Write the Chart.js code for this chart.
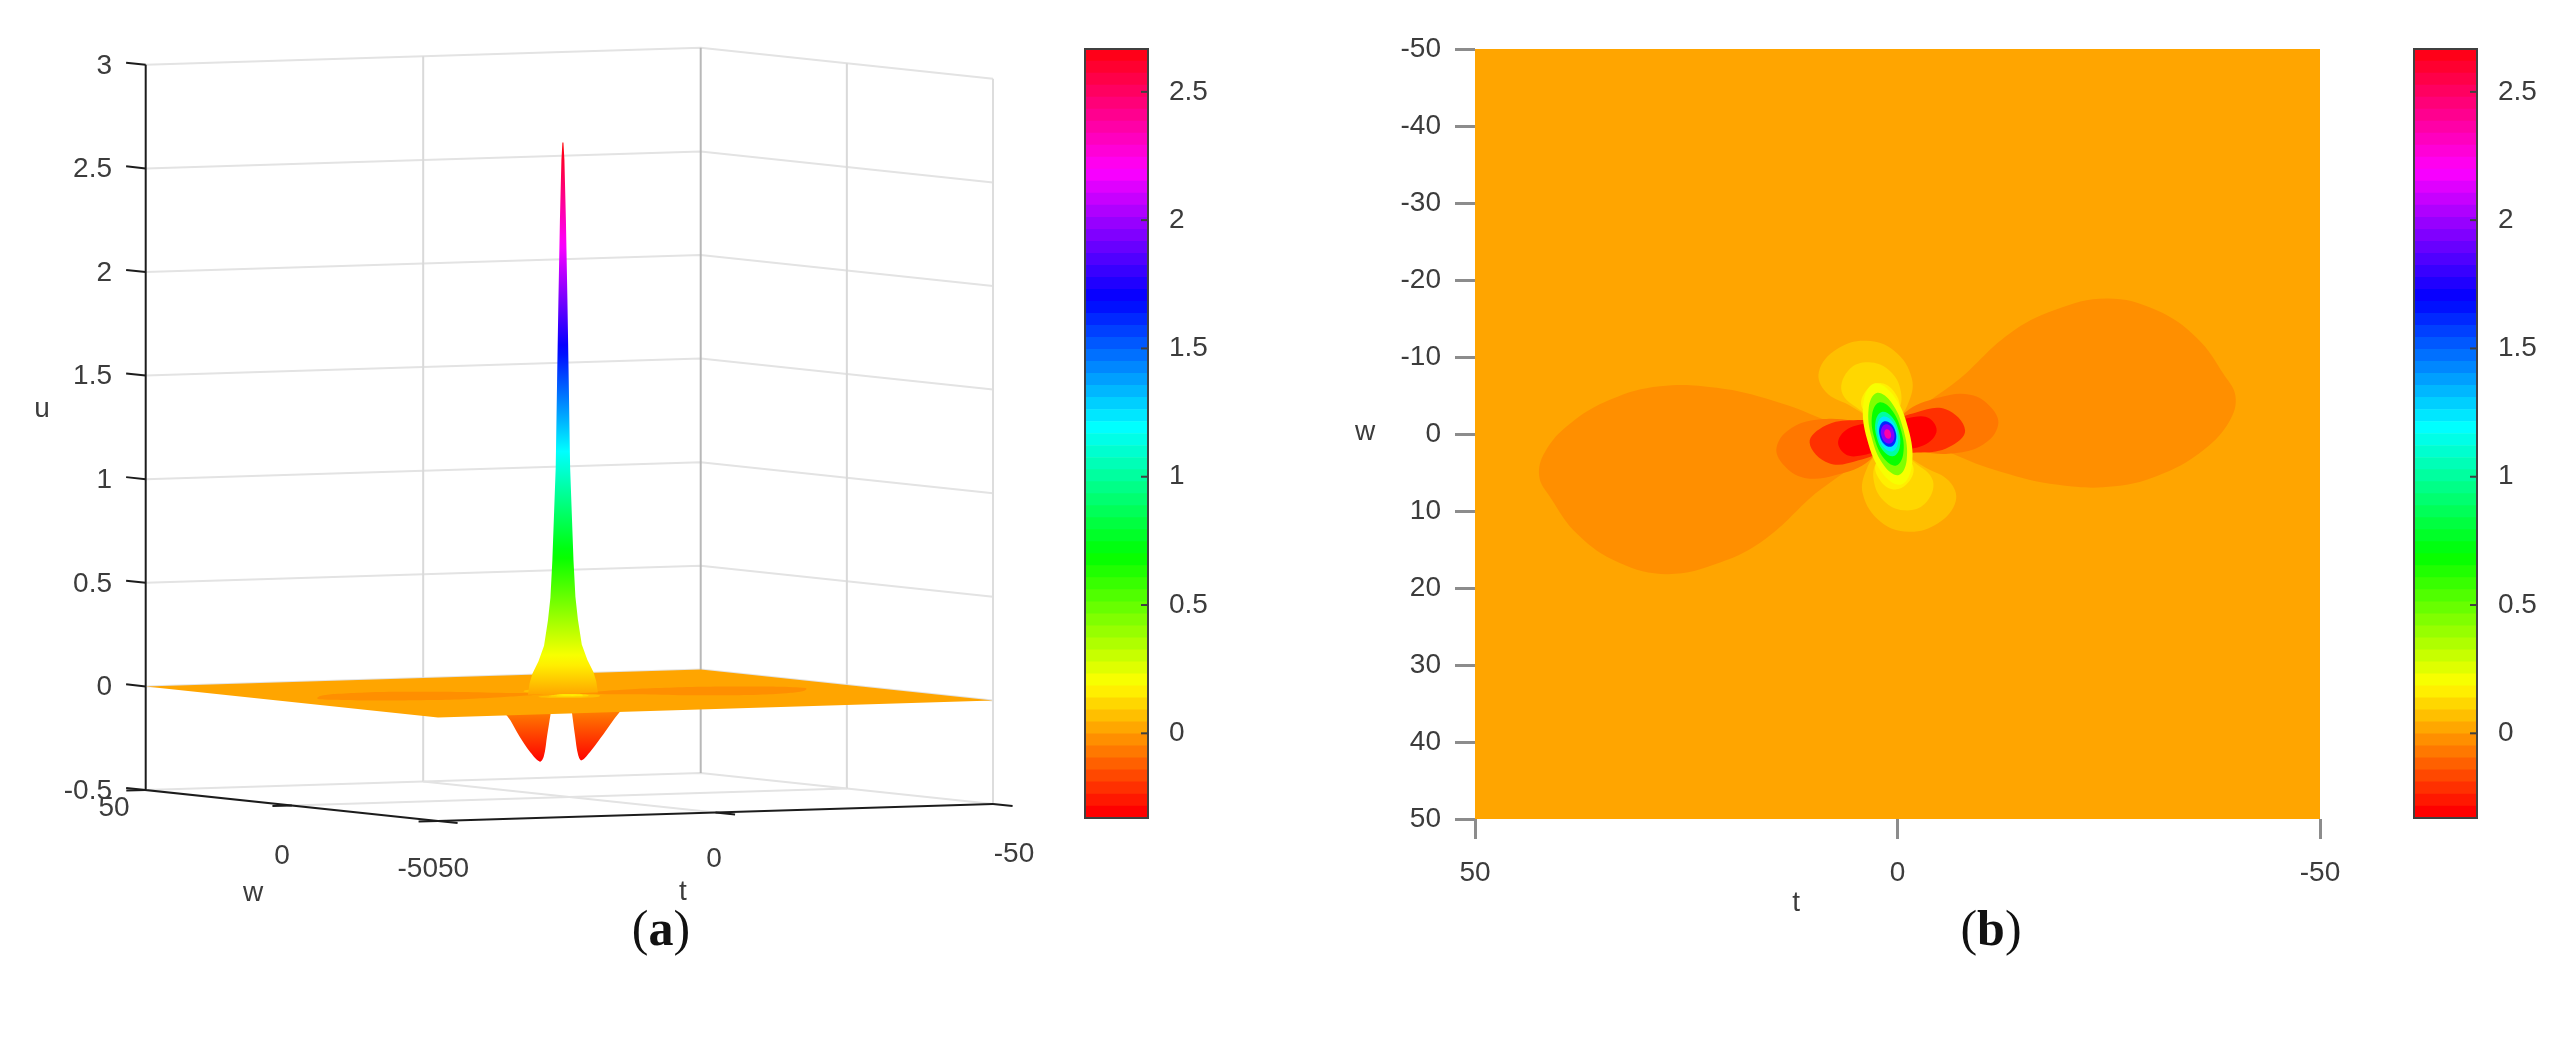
<!DOCTYPE html>
<html>
<head>
    <meta charset="utf-8">
    <title>Surface and contour of u(t, w)</title>
    <script src="https://cdn.jsdelivr.net/npm/chart.js"></script>
    <style>
        body { margin: 0; background: #fff; width: 2563px; height: 1038px; overflow: hidden; position: relative; }
        canvas { position: absolute; }
        .caption { position: absolute; top: 899px; width: 120px; text-align: center; font: 50px "Liberation Serif", serif; color: #111; }
    </style>
</head>
<body>
    <canvas id="surfaceChart" style="left:0;top:0" width="1060" height="960"></canvas>
    <canvas id="barA" style="left:1040px;top:0" width="200" height="960"></canvas>
    <canvas id="mapChart" style="left:1340px;top:0" width="1040" height="960"></canvas>
    <canvas id="barB" style="left:2369px;top:0" width="200" height="960"></canvas>
    <div class="caption" style="left:601px">(<b>a</b>)</div>
    <div class="caption" style="left:1931px">(<b>b</b>)</div>

    <script>
        // axis ticks
        const uTicks = [-0.5, 0, 0.5, 1, 1.5, 2, 2.5, 3];
        const tTicks = [50, 0, -50];
        const wTicks = [50, 0, -50];
        const barTicks = [0, 0.5, 1, 1.5, 2, 2.5];

        // colour range of the colorbar
        const uMin = -0.33;
        const uMax = 2.667;
        const colourLevels = 64;

        // peak profile: height and half width (in t units)
        const peakT = 1.16;
        const peakU = [2.66, 2.575, 2.285, 1.9, 1.51, 1.09, 0.645, 0.465, 0.355, 0.234, 0.16, 0.10, 0.055, 0];
        const peakHalfT = [0.09, 0.27, 0.54, 0.81, 1.05, 1.3, 1.9, 2.25, 2.7, 3.4, 4.4, 5.5, 6, 6.3];

        // the two dips under the plane
        const dipLeftT = [15, 11.2, 9, 7, 5.3, 4.6, 4, 3.4, 2.8];
        const dipLeftU = [0, -0.1, -0.2, -0.28, -0.325, -0.3, -0.2, -0.1, 0];
        const dipRightT = [0, -0.5, -1, -1.6, -2.2, -3.9, -6.2, -9, -13];
        const dipRightU = [0, -0.1, -0.2, -0.3, -0.325, -0.28, -0.2, -0.1, 0];

        // contour outlines
        const lobeRightT = [-1.2, -7.4, -13.2, -18.6, -24.8, -30.6, -35.4, -38.7, -40, -39.3, -36.4, -31.5, -25.7, -19, -12.2, -6.4, -1.9];
        const lobeRightW = [-1.7, -7.2, -13, -16.1, -17.6, -16.1, -12.5, -7.6, -4.9, -1.7, 1.9, 5.1, 6.8, 6.6, 4.9, 2.5, 0];
        const lobeLeftT = [3.6, 9.8, 15.6, 21, 27.2, 33, 37.8, 41.1, 42.4, 41.7, 38.8, 33.9, 28.1, 21.4, 14.6, 8.8, 4.3];
        const lobeLeftW = [2.3, 7.8, 13.6, 16.7, 18.2, 16.7, 13.1, 8.2, 5.5, 2.3, -1.3, -4.5, -6.2, -6, -4.3, -1.9, 0.6];

        const upperT1 = [9.3, 7.2, 3.7, 0.4, -1.7, -1.2, 0.4, 2.3, 5.8, 8.5];
        const upperW1 = [-8.1, -11, -12.1, -10.8, -7.2, -3.8, -1.7, -1.7, -3.8, -5.5];
        const upperT2 = [6.6, 5.6, 3.1, 0.8, -0.4, 0, 2.3, 4.3];
        const upperW2 = [-5.5, -8.5, -9.3, -8.1, -5.5, -3, -1.7, -3];
        const upperT3 = [4.3, 3.5, 1.9, 0.4, -0.2, 1.4, 3.1];
        const upperW3 = [-3.8, -5.9, -6.6, -5.5, -3.4, -1.7, -2.3];

        const lowerT1 = [-6.9, -4.8, -1.3, 2, 4.1, 3.6, 2, 0.1, -3.4, -6.1];
        const lowerW1 = [8.7, 11.6, 12.7, 11.4, 7.8, 4.4, 2.3, 2.3, 4.4, 6.1];
        const lowerT2 = [-4.2, -3.2, -0.7, 1.6, 2.8, 2.4, 0.1, -1.9];
        const lowerW2 = [6.1, 9.1, 9.9, 8.7, 6.1, 3.6, 2.3, 3.6];
        const lowerT3 = [-1.9, -1.1, 0.5, 2, 2.6, 1, -0.7];
        const lowerW3 = [4.4, 6.5, 7.2, 6.1, 4, 2.3, 2.9];

        const sideLeftT1 = [14.3, 12.5, 9.1, 5.2, 2.3, 2.3, 3.3, 7.2, 11, 13.5];
        const sideLeftW1 = [1.7, -0.8, -1.9, -1.7, -0.8, 0.8, 3.4, 5.3, 5.7, 4];
        const sideLeftT2 = [10.4, 8.5, 5.2, 2.3, 2.1, 4.6, 8.1];
        const sideLeftW2 = [1.1, -1.1, -1.8, -1.2, 2, 3.4, 3.8];
        const sideLeftT3 = [7, 5.2, 2.3, 2.3, 4.3, 6.2];
        const sideLeftW3 = [0.8, -1, -1, 1.8, 2.8, 2.6];

        const sideRightT1 = [-11.9, -10.1, -6.7, -2.8, 0.1, 0.1, -0.9, -4.8, -8.6, -11.1];
        const sideRightW1 = [-1.1, 1.4, 2.5, 2.3, 1.4, -0.2, -2.8, -4.7, -5.1, -3.4];
        const sideRightT2 = [-8, -6.1, -2.8, 0.1, 0.3, -2.2, -5.7];
        const sideRightW2 = [-0.5, 1.7, 2.4, 1.8, -1.4, -2.8, -3.2];
        const sideRightT3 = [-4.6, -2.8, 0.1, 0.1, -1.9, -3.8];
        const sideRightW3 = [-0.2, 1.6, 1.6, -1.2, -2.2, -2];

        const coreT1 = [-0.45, -1.7, -1.27, 0.58, 2.77, 4.02, 3.59, 1.74];
        const coreW1 = [6.56, 4.13, -0.72, -5.15, -6.56, -4.13, 0.72, 5.15];
        const coreT2 = [-0.15, -1.09, -0.71, 0.76, 2.47, 3.41, 3.03, 1.56];
        const coreW2 = [5.33, 3.38, -0.55, -4.16, -5.33, -3.38, 0.55, 4.16];
        const coreT3 = [0.15, -0.68, -0.43, 0.75, 2.17, 3, 2.75, 1.57];
        const coreW3 = [4.1, 2.57, -0.47, -3.23, -4.1, -2.57, 0.47, 3.23];
        const coreT4 = [0.46, -0.26, -0.15, 0.73, 1.86, 2.58, 2.47, 1.59];
        const coreW4 = [2.87, 1.75, -0.39, -2.3, -2.87, -1.75, 0.39, 2.3];
        const coreT5 = [0.61, -0.02, 0.04, 0.76, 1.71, 2.34, 2.28, 1.56];
        const coreW5 = [2.26, 1.36, -0.33, -1.83, -2.26, -1.36, 0.33, 1.83];
        const coreT6 = [0.76, 0.22, 0.23, 0.79, 1.56, 2.1, 2.09, 1.53];
        const coreW6 = [1.64, 0.96, -0.28, -1.36, -1.64, -0.96, 0.28, 1.36];
        const coreT7 = [0.86, 0.42, 0.41, 0.84, 1.46, 1.9, 1.91, 1.48];
        const coreW7 = [1.23, 0.71, -0.22, -1.03, -1.23, -0.71, 0.22, 1.03];
        const coreT8 = [1.01, 0.79, 0.79, 1, 1.31, 1.53, 1.53, 1.32];
        const coreW8 = [0.62, 0.36, -0.11, -0.52, -0.62, -0.36, 0.11, 0.52];

        // contours with their level: [t, w, u]
        const lobeContours = [[lobeRightT, lobeRightW, -0.04], [lobeLeftT, lobeLeftW, -0.04]];
        const blobContours = [
            [upperT1, upperW1, 0.06], [upperT2, upperW2, 0.11], [upperT3, upperW3, 0.17],
            [lowerT1, lowerW1, 0.06], [lowerT2, lowerW2, 0.11], [lowerT3, lowerW3, 0.17]
        ];
        const sideContours = [
            [sideLeftT1, sideLeftW1, -0.09], [sideLeftT2, sideLeftW2, -0.22], [sideLeftT3, sideLeftW3, -0.32],
            [sideRightT1, sideRightW1, -0.09], [sideRightT2, sideRightW2, -0.22], [sideRightT3, sideRightW3, -0.32]
        ];
        const coreContours = [
            [coreT1, coreW1, 0.21], [coreT2, coreW2, 0.42], [coreT3, coreW3, 0.67], [coreT4, coreW4, 1],
            [coreT5, coreW5, 1.25], [coreT6, coreW6, 1.59], [coreT7, coreW7, 1.92], [coreT8, coreW8, 2.34]
        ];

        const planeColour = '#FFA500';
        const inkColour = '#3c3c3c';
        Chart.defaults.font.family = '"Liberation Sans", Arial, sans-serif';
        Chart.defaults.font.size = 28;
        Chart.defaults.color = inkColour;
        Chart.defaults.animation = false;
        Chart.defaults.responsive = false;
        Chart.defaults.plugins.legend.display = false;
        Chart.defaults.plugins.tooltip.enabled = false;

        function hueColour(index) {
            return 'hsl(' + (index / colourLevels * 360) + ', 100%, 50%)';
        }

        function colourFor(u) {
            const i = Math.floor((u - uMin) / (uMax - uMin) * colourLevels);
            return hueColour(Math.max(0, Math.min(colourLevels - 1, i)));
        }

        // fixed view of the 3D box, maps (t, w, u) onto the flat plot scales
        function project(t, w, u) {
            return {
                x: 438 + (50 - t) * 5.55 - (w + 50) * 2.923,
                y: 821 - (50 - t) * 0.17 - (w + 50) * 0.31 - (u + 0.5) * 207.2
            };
        }

        function lineSet(points, colour, width) {
            return { data: points, showLine: true, pointRadius: 0, borderColor: colour, borderWidth: width, fill: false, clip: false };
        }

        function shapeSet(points, colour, tension) {
            return {
                data: points, showLine: true, pointRadius: 0, borderWidth: 0, borderColor: 'transparent',
                backgroundColor: colour, fill: 'shape', tension: tension, clip: false
            };
        }

        function closed(points) {
            return points.concat([points[0]]);
        }

        // wrap one point on both ends so the spline has no corner where it closes
        function closedSmooth(points) {
            return [points[points.length - 1]].concat(points, [points[0], points[1]]);
        }

        // draw order = array order
        function inPaintOrder(sets) {
            sets.forEach((set, i) => { set.order = sets.length - i; });
            return sets;
        }

        function textPlugin(items) {
            return {
                id: 'sceneText',
                afterDraw(chart) {
                    const ctx = chart.ctx;
                    ctx.save();
                    ctx.font = '28px "Liberation Sans", Arial, sans-serif';
                    ctx.fillStyle = inkColour;
                    ctx.textBaseline = 'middle';
                    items.forEach(item => {
                        ctx.textAlign = item.align || 'center';
                        ctx.fillText(item.text, chart.scales.x.getPixelForValue(item.x), chart.scales.y.getPixelForValue(item.y));
                    });
                    ctx.restore();
                }
            };
        }

        // --- panel (a): surface ---
        const gridColour = '#e3e3e3';
        const axisColour = '#1c1c1c';
        const surfaceSets = [];

        uTicks.forEach(u => {
            surfaceSets.push(lineSet([project(50, 50, u), project(-50, 50, u), project(-50, -50, u)], gridColour, 2));
        });
        surfaceSets.push(lineSet([project(0, 50, -0.5), project(0, 50, 3)], '#d9d9d9', 2));
        surfaceSets.push(lineSet([project(-50, 0, -0.5), project(-50, 0, 3)], '#d9d9d9', 2));
        surfaceSets.push(lineSet([project(-50, -50, -0.5), project(-50, -50, 3)], '#dddddd', 2));
        surfaceSets.push(lineSet([project(-50, 50, -0.5), project(-50, 50, 3)], '#b8b8b8', 2));
        surfaceSets.push(lineSet([project(0, 50, -0.5), project(0, -50, -0.5)], gridColour, 2));
        surfaceSets.push(lineSet([project(50, 0, -0.5), project(-50, 0, -0.5)], gridColour, 2));

        surfaceSets.push(lineSet([project(50, 50, 3), project(50, 50, -0.5), project(50, -50, -0.5), project(-50, -50, -0.5)], axisColour, 2));
        uTicks.forEach(u => {
            surfaceSets.push(lineSet([project(50, 50, u), project(50, 56.7, u)], axisColour, 2));
        });
        wTicks.forEach(w => {
            surfaceSets.push(lineSet([project(50, w, -0.5), project(53.5, w, -0.5)], axisColour, 2));
        });
        tTicks.forEach(t => {
            surfaceSets.push(lineSet([project(t, -50, -0.5), project(t, -56.7, -0.5)], axisColour, 2));
        });

        // dips hang under the plane, peak stands on it
        const dipLeftSet = shapeSet(closed(dipLeftT.map((t, i) => project(t, 0, dipLeftU[i]))), colourFor(-0.2), 0.35);
        const dipRightSet = shapeSet(closed(dipRightT.map((t, i) => project(t, 0, dipRightU[i]))), colourFor(-0.2), 0.35);
        surfaceSets.push(dipLeftSet, dipRightSet);

        surfaceSets.push(shapeSet(closed([project(50, 50, 0), project(-50, 50, 0), project(-50, -50, 0), project(50, -50, 0)]), planeColour, 0));
        lobeContours.concat(blobContours).forEach(([ts, ws, u]) => {
            surfaceSets.push(shapeSet(closedSmooth(ts.map((t, i) => project(t, ws[i], 0))), colourFor(u), 0.4));
        });

        const peakLeft = peakU.map((u, i) => project(peakT + peakHalfT[i], 0, u));
        const peakRight = peakU.map((u, i) => project(peakT - peakHalfT[i], 0, u)).reverse();
        const peakSet = shapeSet(closed(peakLeft.concat(peakRight)), colourFor(1), 0);
        surfaceSets.push(peakSet);

        // colours of peak and dips follow height, set once the scales exist
        const heightColours = {
            id: 'heightColours',
            afterLayout(chart) {
                const y = chart.scales.y;
                const top = y.getPixelForValue(project(peakT, 0, uMax).y);
                const bottom = y.getPixelForValue(project(peakT, 0, uMin).y);
                const gradient = chart.ctx.createLinearGradient(0, top, 0, bottom);
                for (let i = 0; i <= colourLevels; i++) {
                    gradient.addColorStop(i / colourLevels, hueColour(colourLevels - i));
                }
                peakSet.backgroundColor = gradient;
                dipLeftSet.backgroundColor = gradient;
                dipRightSet.backgroundColor = gradient;
            }
        };

        const surfaceText = uTicks.map(u => ({ text: String(u), x: 112, y: project(50, 50, u).y + 1, align: 'right' }));
        surfaceText.push(
            { text: '50', x: 114, y: 808 }, { text: '0', x: 282, y: 856 }, { text: '-50', x: 438, y: 869, align: 'right' },
            { text: '50', x: 438, y: 869, align: 'left' }, { text: '0', x: 714, y: 859 }, { text: '-50', x: 1014, y: 854 },
            { text: 'u', x: 42, y: 409 }, { text: 'w', x: 253, y: 893 }, { text: 't', x: 683, y: 892 }
        );

        new Chart(document.getElementById('surfaceChart'), {
            type: 'scatter',
            data: { datasets: inPaintOrder(surfaceSets) },
            options: {
                scales: {
                    x: { display: false, min: 0, max: 1060 },
                    y: { display: false, min: 0, max: 960, reverse: true }
                }
            },
            plugins: [heightColours, textPlugin(surfaceText)]
        });

        // --- panel (b): contour map ---
        const mapSets = [shapeSet(closed([{ x: 50, y: -50 }, { x: -50, y: -50 }, { x: -50, y: 50 }, { x: 50, y: 50 }]), planeColour, 0)];
        lobeContours.concat(blobContours, sideContours, coreContours).forEach(([ts, ws, u]) => {
            mapSets.push(shapeSet(closedSmooth(ts.map((t, i) => ({ x: t, y: ws[i] }))), colourFor(u), 0.4));
        });

        new Chart(document.getElementById('mapChart'), {
            type: 'scatter',
            data: { datasets: inPaintOrder(mapSets) },
            options: {
                layout: { padding: { top: 49, right: 60 } },
                scales: {
                    x: {
                        reverse: true, min: -50, max: 50,
                        afterFit: s => { s.height = 141; },
                        ticks: { stepSize: 50, padding: 17, maxRotation: 0 },
                        grid: { drawOnChartArea: false, tickLength: 20, tickColor: '#8c8c8c', tickWidth: 3 },
                        border: { display: false }
                    },
                    y: {
                        reverse: true, min: -50, max: 50,
                        afterFit: s => { s.width = 135; },
                        ticks: { stepSize: 10, padding: 14 },
                        grid: { drawOnChartArea: false, tickLength: 20, tickColor: '#8c8c8c', tickWidth: 3 },
                        border: { display: false }
                    }
                }
            },
            plugins: [textPlugin([
                { text: 't', x: 12, y: 61 },
                { text: 'w', x: 63, y: -0.2 }
            ])]
        });

        // --- colorbars ---
        const barFrame = {
            id: 'barFrame',
            afterDraw(chart) {
                const ctx = chart.ctx;
                const area = chart.chartArea;
                const y = chart.scales.y;
                ctx.save();
                ctx.strokeStyle = '#404040';
                ctx.lineWidth = 2;
                ctx.strokeRect(area.left, area.top, area.right - area.left, area.bottom - area.top);
                barTicks.forEach(v => {
                    const p = y.getPixelForValue(v);
                    ctx.beginPath();
                    ctx.moveTo(area.right - 7, p);
                    ctx.lineTo(area.right, p);
                    ctx.stroke();
                });
                ctx.restore();
            }
        };

        function colorbar(id) {
            const step = (uMax - uMin) / colourLevels;
            const bands = [];
            for (let i = 0; i < colourLevels; i++) {
                bands.push({
                    data: [[uMin + i * step, uMin + (i + 1) * step]],
                    backgroundColor: hueColour(i),
                    grouped: false, barPercentage: 1, categoryPercentage: 1, borderWidth: 0
                });
            }
            new Chart(document.getElementById(id), {
                type: 'bar',
                data: { labels: [''], datasets: bands },
                options: {
                    layout: { padding: { top: 49, bottom: 142, left: 45 } },
                    scales: {
                        x: { display: false },
                        y: {
                            position: 'right', min: uMin, max: uMax,
                            afterFit: s => { s.width = 92; },
                            afterBuildTicks: s => { s.ticks = barTicks.map(v => ({ value: v })); },
                            ticks: { padding: 13, callback: v => String(v) },
                            grid: { display: false },
                            border: { display: false }
                        }
                    }
                },
                plugins: [barFrame]
            });
        }

        colorbar('barA');
        colorbar('barB');
    </script>
</body>
</html>
